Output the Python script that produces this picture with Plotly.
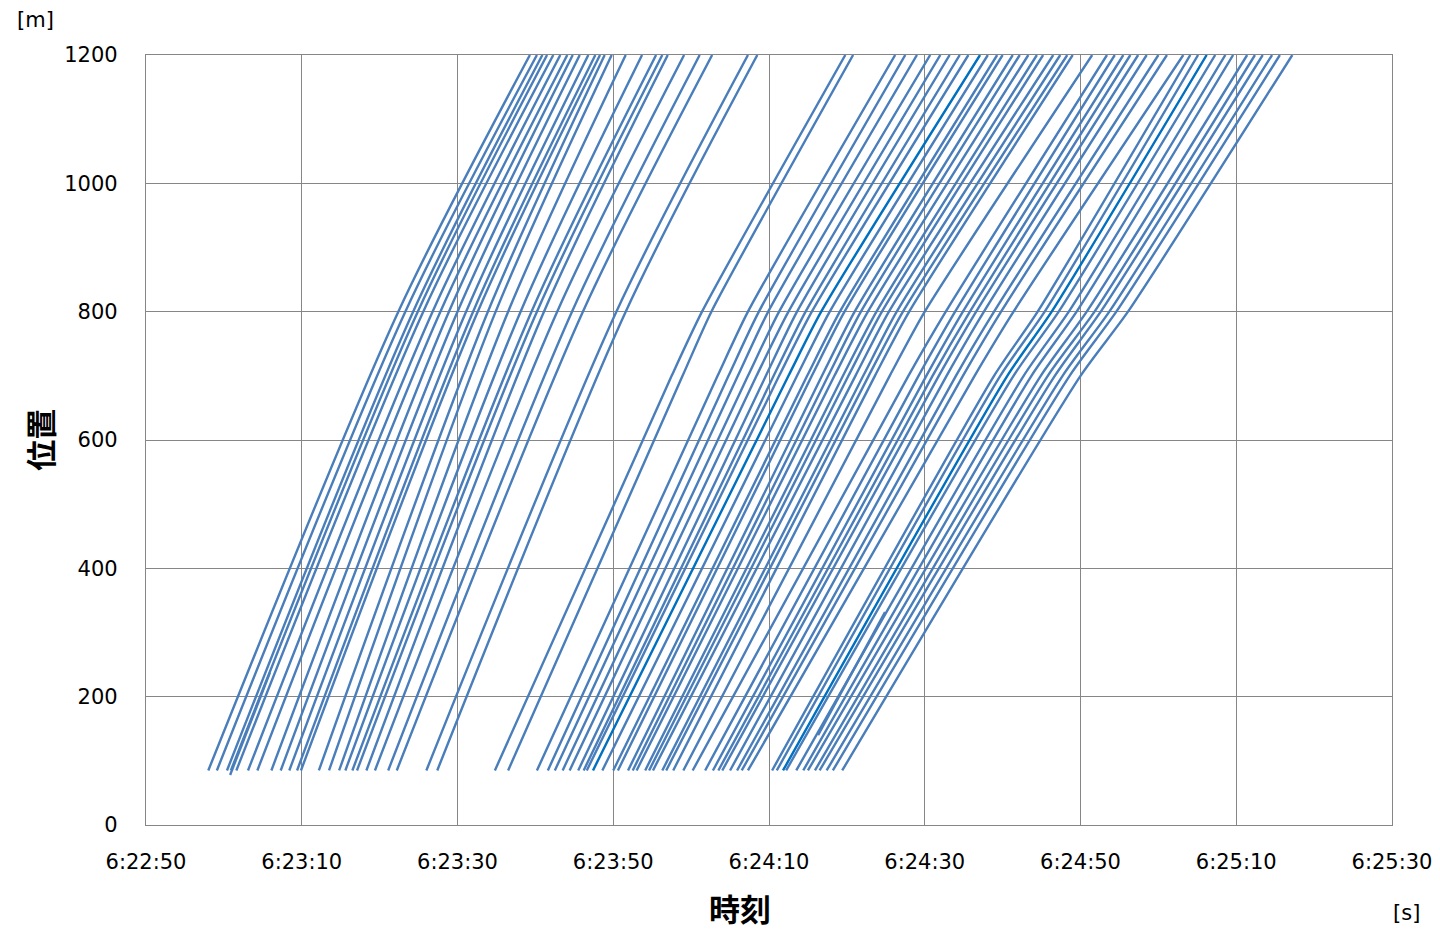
import plotly.graph_objects as go

# ---- data (seconds after 6:22:50, position in metres) ----
x_tick_vals = [0, 20, 40, 60, 80, 100, 120, 140, 160]
x_tick_text = ["6:22:50", "6:23:10", "6:23:30", "6:23:50", "6:24:10",
               "6:24:30", "6:24:50", "6:25:10", "6:25:30"]
y_tick_vals = [0, 200, 400, 600, 800, 1000, 1200]

# group 1 : positions where times were read
g1_levels = [85, 800, 1200]
g1_t85 = [8.0, 9.1, 10.4, 10.9, 11.6, 13.1, 14.3, 16.1, 17.3, 18.4, 19.4, 19.9,
          22.2, 23.5, 24.8, 25.6, 26.5, 27.1, 28.3, 29.4, 31.1, 32.2, 36.0, 37.4]
g1_t800 = [32.4, 33.3, 34.3, 34.9, 35.6, 36.8, 37.8, 38.9, 40.0, 41.1, 42.0, 42.6,
           43.9, 44.9, 46.5, 48.1, 49.5, 50.2, 51.1, 52.8, 54.7, 56.1, 60.4, 61.6]
g1_t1200 = [49.3, 50.2, 50.9, 51.5, 52.3, 53.2, 54.1, 54.8, 55.7, 56.8, 57.7, 58.3,
            58.9, 59.8, 61.6, 63.7, 65.5, 66.3, 67.0, 69.1, 71.1, 72.7, 77.3, 78.5]

# group 2
g2_levels = [85, 700, 800, 1200]
g2_t85 = [44.8, 46.5, 50.2, 51.6, 52.5, 53.5, 54.4, 55.5, 56.2, 56.6, 57.4, 58.6,
          60.0, 60.6, 61.9, 62.5, 63.0, 64.1, 64.6, 65.1, 66.3, 66.8, 67.7, 69.0,
          70.2, 71.8, 72.8, 73.5, 74.0, 75.0, 75.9, 76.5, 77.3, 80.4, 81.0, 81.8,
          82.2, 83.5, 84.4, 85.0, 85.9, 86.5, 87.4, 88.2, 89.4]
g2_t700 = [67.5, 68.9, 73.4, 74.8, 76.0, 77.3, 78.4, 79.6, 80.6, 81.3, 82.5, 83.6,
           84.9, 85.5, 86.8, 87.6, 88.4, 89.5, 90.2, 91.1, 92.1, 92.8, 93.6, 95.5,
           97.9, 99.2, 100.2, 101.0, 101.8, 102.8, 104.0, 104.9, 106.4, 108.9, 109.7, 110.6,
           111.4, 112.7, 113.7, 114.9, 115.8, 116.7, 117.7, 118.6, 120.0]
g2_t800 = [71.4, 72.6, 77.3, 78.7, 79.9, 81.3, 82.5, 83.6, 84.7, 85.5, 86.7, 87.8,
           89.1, 89.7, 91.0, 91.8, 92.7, 93.8, 94.5, 95.4, 96.4, 97.2, 98.0, 100.0,
           102.7, 103.9, 104.9, 105.8, 106.6, 107.6, 108.9, 109.8, 111.4, 114.5, 115.4, 116.3,
           117.2, 118.5, 119.5, 120.8, 121.8, 122.6, 123.7, 124.6, 126.1]
g2_t1200 = [89.8, 90.8, 96.2, 97.5, 99.0, 100.7, 102.0, 103.2, 104.5, 105.6, 107.1, 108.1,
            109.3, 110.0, 111.3, 112.2, 113.3, 114.4, 115.2, 116.5, 117.4, 118.3, 119.0, 121.5,
            123.4, 124.4, 125.5, 126.4, 127.4, 128.5, 130.0, 131.1, 133.2, 134.1, 135.1, 136.2,
            137.3, 138.6, 139.6, 141.4, 142.4, 143.4, 144.6, 145.6, 147.2]
g2_dark = [10, 35]   # indices of the darker trajectories

# short partial trajectories: (times, positions)
short_t = [[10.8, 15.9], [86.3, 94.9]]
short_y = [[78, 237], [140, 332]]

LIGHT = "#4A7EBB"
DARK = "#0070C0"
GRID = "#868686"
LW = 2.4

fig = go.Figure()

for a, b, c in zip(g1_t85, g1_t800, g1_t1200):
    fig.add_trace(go.Scatter(x=[a, b, c], y=g1_levels, mode="lines",
                             line=dict(color=LIGHT, width=LW, shape="spline", smoothing=0.8),
                             showlegend=False, hoverinfo="skip"))

for i, (a, b, c, d) in enumerate(zip(g2_t85, g2_t700, g2_t800, g2_t1200)):
    col = DARK if i in g2_dark else LIGHT
    fig.add_trace(go.Scatter(x=[a, b, c, d], y=g2_levels, mode="lines",
                             line=dict(color=col, width=LW, shape="spline", smoothing=0.6),
                             showlegend=False, hoverinfo="skip"))

for ts, ys in zip(short_t, short_y):
    fig.add_trace(go.Scatter(x=ts, y=ys, mode="lines",
                             line=dict(color=LIGHT, width=LW), showlegend=False,
                             hoverinfo="skip"))

tick_font = dict(family="DejaVu Sans, sans-serif", size=21, color="#000000")
title_font = dict(family="Noto Sans CJK JP", size=31, color="#000000")
unit_font = dict(family="DejaVu Sans, sans-serif", size=21, color="#000000")

fig.update_layout(
    width=1440, height=922,
    margin=dict(l=138, r=56, t=47, b=105),
    paper_bgcolor="white", plot_bgcolor="white",
    xaxis=dict(range=[0, 160], tickvals=x_tick_vals, ticktext=x_tick_text,
               showgrid=True, gridcolor=GRID, gridwidth=1.3,
               showline=True, linecolor=GRID, linewidth=1.3, mirror=True,
               zeroline=False, ticks="", tickfont=tick_font, ticklabelstandoff=18),
    yaxis=dict(range=[0, 1200], tickvals=y_tick_vals,
               showgrid=True, gridcolor=GRID, gridwidth=1.3,
               showline=True, linecolor=GRID, linewidth=1.3, mirror=True,
               zeroline=False, ticks="", tickfont=tick_font, ticklabelstandoff=23),
    annotations=[
        dict(text="<b>位置</b>", xref="paper", yref="paper", x=-0.086, y=0.5,
             textangle=-90, showarrow=False, font=title_font,
             xanchor="center", yanchor="middle"),
        dict(text="<b>時刻</b>", xref="paper", yref="paper", x=0.477, y=-0.107,
             showarrow=False, font=title_font, xanchor="center", yanchor="middle"),
        dict(text="[m]", xref="paper", yref="paper", x=-0.089, y=1.046,
             showarrow=False, font=unit_font, xanchor="center", yanchor="middle"),
        dict(text="[s]", xref="paper", yref="paper", x=1.012, y=-0.114,
             showarrow=False, font=unit_font, xanchor="center", yanchor="middle"),
    ],
)

fig.write_html("out.html")
